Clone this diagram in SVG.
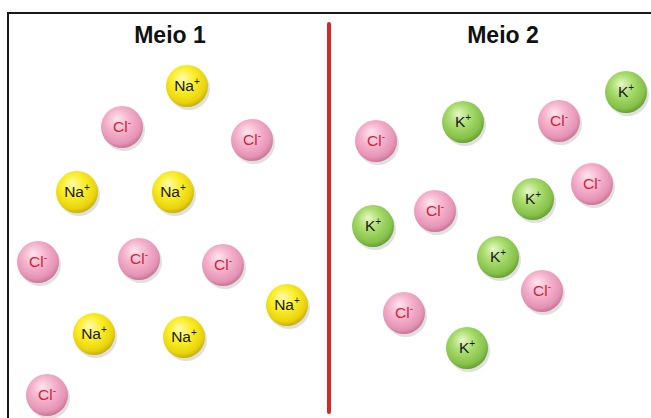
<svg xmlns="http://www.w3.org/2000/svg" width="651" height="418" viewBox="0 0 651 418">
<style>
.title{font-family:"Liberation Sans",Arial,sans-serif;font-weight:bold;font-size:23px;fill:#111;text-anchor:middle}
.lbl{font-family:"Liberation Sans",Arial,sans-serif;font-size:15.5px;text-anchor:middle}
.na text,.k text{fill:#1a1a1a}
.cl text{fill:#d3223a}
.na circle.b{fill:url(#gy)}
.cl circle.b{fill:url(#gp)}
.k circle.b{fill:url(#gg)}
circle.s{fill:#000;opacity:0.12}
.sup{font-size:10px}
</style>
<defs>
<radialGradient id="gy" cx="0.45" cy="0.4" r="0.6" fx="0.38" fy="0.3">
<stop offset="0" stop-color="#fffbb0"/>
<stop offset="0.45" stop-color="#fbee2a"/>
<stop offset="0.85" stop-color="#e9d40c"/>
<stop offset="1" stop-color="#c9b00a"/>
</radialGradient>
<radialGradient id="gp" cx="0.45" cy="0.4" r="0.6" fx="0.38" fy="0.3">
<stop offset="0" stop-color="#fde6ef"/>
<stop offset="0.45" stop-color="#f5b4cd"/>
<stop offset="0.85" stop-color="#e593b5"/>
<stop offset="1" stop-color="#c97598"/>
</radialGradient>
<radialGradient id="gg" cx="0.45" cy="0.4" r="0.6" fx="0.38" fy="0.3">
<stop offset="0" stop-color="#e6f7c8"/>
<stop offset="0.45" stop-color="#a8dc6c"/>
<stop offset="0.85" stop-color="#86c04a"/>
<stop offset="1" stop-color="#66a02f"/>
</radialGradient>
</defs>
<rect width="651" height="418" fill="#fff"/>
<g id="frame">
<line x1="8" y1="13" x2="651" y2="13" stroke="#1a1a1a" stroke-width="2"/>
<line x1="8" y1="12" x2="8" y2="418" stroke="#1a1a1a" stroke-width="2"/>
</g>
<g id="membrane">
<line x1="329" y1="24" x2="329" y2="412" stroke="#d8262a" stroke-width="4" stroke-linecap="round"/>
</g>
<text class="title" x="170" y="43">Meio 1</text>
<text class="title" x="503" y="43">Meio 2</text>
<g id="connectors"/>

<g id="na1" class="na"><circle class="s" cx="189" cy="89" r="21"/><circle class="b" cx="187" cy="86" r="21"/><text class="lbl" x="187" y="91">Na<tspan class="sup" dy="-6">+</tspan></text></g>
<g id="cl1" class="cl"><circle class="s" cx="124" cy="130" r="21"/><circle class="b" cx="122" cy="127" r="21"/><text class="lbl" x="122" y="132">Cl<tspan class="sup" dy="-6">-</tspan></text></g>
<g id="cl2" class="cl"><circle class="s" cx="254" cy="143" r="21"/><circle class="b" cx="252" cy="140" r="21"/><text class="lbl" x="252" y="145">Cl<tspan class="sup" dy="-6">-</tspan></text></g>
<g id="na2" class="na"><circle class="s" cx="79" cy="195" r="21"/><circle class="b" cx="77" cy="192" r="21"/><text class="lbl" x="77" y="197">Na<tspan class="sup" dy="-6">+</tspan></text></g>
<g id="na3" class="na"><circle class="s" cx="175" cy="195" r="21"/><circle class="b" cx="173" cy="192" r="21"/><text class="lbl" x="173" y="197">Na<tspan class="sup" dy="-6">+</tspan></text></g>
<g id="cl3" class="cl"><circle class="s" cx="40" cy="265" r="21"/><circle class="b" cx="38" cy="262" r="21"/><text class="lbl" x="38" y="267">Cl<tspan class="sup" dy="-6">-</tspan></text></g>
<g id="cl4" class="cl"><circle class="s" cx="141" cy="262" r="21"/><circle class="b" cx="139" cy="259" r="21"/><text class="lbl" x="139" y="264">Cl<tspan class="sup" dy="-6">-</tspan></text></g>
<g id="cl5" class="cl"><circle class="s" cx="225" cy="268" r="21"/><circle class="b" cx="223" cy="265" r="21"/><text class="lbl" x="223" y="270">Cl<tspan class="sup" dy="-6">-</tspan></text></g>
<g id="na4" class="na"><circle class="s" cx="289" cy="308" r="21"/><circle class="b" cx="287" cy="305" r="21"/><text class="lbl" x="287" y="310">Na<tspan class="sup" dy="-6">+</tspan></text></g>
<g id="na5" class="na"><circle class="s" cx="96" cy="337" r="21"/><circle class="b" cx="94" cy="334" r="21"/><text class="lbl" x="94" y="339">Na<tspan class="sup" dy="-6">+</tspan></text></g>
<g id="na6" class="na"><circle class="s" cx="186" cy="340" r="21"/><circle class="b" cx="184" cy="337" r="21"/><text class="lbl" x="184" y="342">Na<tspan class="sup" dy="-6">+</tspan></text></g>
<g id="cl6" class="cl"><circle class="s" cx="49" cy="398" r="21"/><circle class="b" cx="47" cy="395" r="21"/><text class="lbl" x="47" y="400">Cl<tspan class="sup" dy="-6">-</tspan></text></g>

<g id="k1" class="k"><circle class="s" cx="628" cy="95" r="21"/><circle class="b" cx="626" cy="92" r="21"/><text class="lbl" x="626" y="97">K<tspan class="sup" dy="-6">+</tspan></text></g>
<g id="k2" class="k"><circle class="s" cx="465" cy="125" r="21"/><circle class="b" cx="463" cy="122" r="21"/><text class="lbl" x="463" y="127">K<tspan class="sup" dy="-6">+</tspan></text></g>
<g id="cl7" class="cl"><circle class="s" cx="561" cy="124" r="21"/><circle class="b" cx="559" cy="121" r="21"/><text class="lbl" x="559" y="126">Cl<tspan class="sup" dy="-6">-</tspan></text></g>
<g id="cl8" class="cl"><circle class="s" cx="378" cy="144" r="21"/><circle class="b" cx="376" cy="141" r="21"/><text class="lbl" x="376" y="146">Cl<tspan class="sup" dy="-6">-</tspan></text></g>
<g id="cl9" class="cl"><circle class="s" cx="594" cy="187" r="21"/><circle class="b" cx="592" cy="184" r="21"/><text class="lbl" x="592" y="189">Cl<tspan class="sup" dy="-6">-</tspan></text></g>
<g id="k3" class="k"><circle class="s" cx="535" cy="202" r="21"/><circle class="b" cx="533" cy="199" r="21"/><text class="lbl" x="533" y="204">K<tspan class="sup" dy="-6">+</tspan></text></g>
<g id="cl10" class="cl"><circle class="s" cx="437" cy="214" r="21"/><circle class="b" cx="435" cy="211" r="21"/><text class="lbl" x="435" y="216">Cl<tspan class="sup" dy="-6">-</tspan></text></g>
<g id="k4" class="k"><circle class="s" cx="375" cy="229" r="21"/><circle class="b" cx="373" cy="226" r="21"/><text class="lbl" x="373" y="231">K<tspan class="sup" dy="-6">+</tspan></text></g>
<g id="k5" class="k"><circle class="s" cx="500" cy="260" r="21"/><circle class="b" cx="498" cy="257" r="21"/><text class="lbl" x="498" y="262">K<tspan class="sup" dy="-6">+</tspan></text></g>
<g id="cl11" class="cl"><circle class="s" cx="544" cy="294" r="21"/><circle class="b" cx="542" cy="291" r="21"/><text class="lbl" x="542" y="296">Cl<tspan class="sup" dy="-6">-</tspan></text></g>
<g id="cl12" class="cl"><circle class="s" cx="406" cy="316" r="21"/><circle class="b" cx="404" cy="313" r="21"/><text class="lbl" x="404" y="318">Cl<tspan class="sup" dy="-6">-</tspan></text></g>
<g id="k6" class="k"><circle class="s" cx="469" cy="351" r="21"/><circle class="b" cx="467" cy="348" r="21"/><text class="lbl" x="467" y="353">K<tspan class="sup" dy="-6">+</tspan></text></g>
</svg>
